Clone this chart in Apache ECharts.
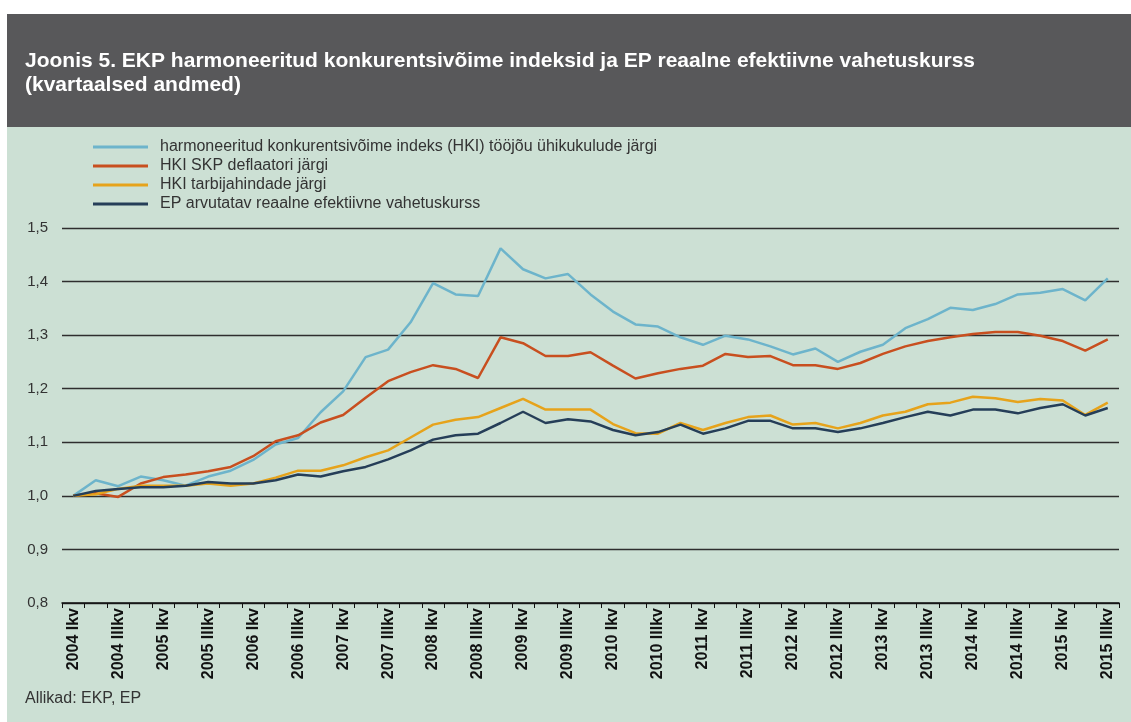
<!DOCTYPE html>
<html>
<head>
<meta charset="utf-8">
<style>
  html, body { margin: 0; padding: 0; background: #ffffff; }
  #chart { width: 1131px; height: 722px; }
</style>
<script src="https://cdn.jsdelivr.net/npm/echarts@6/dist/echarts.min.js"></script>
</head>
<body>
<div id="chart"></div>
<script>
var quarters = [
  '2004 Ikv', '2004 IIkv', '2004 IIIkv', '2004 IVkv',
  '2005 Ikv', '2005 IIkv', '2005 IIIkv', '2005 IVkv',
  '2006 Ikv', '2006 IIkv', '2006 IIIkv', '2006 IVkv',
  '2007 Ikv', '2007 IIkv', '2007 IIIkv', '2007 IVkv',
  '2008 Ikv', '2008 IIkv', '2008 IIIkv', '2008 IVkv',
  '2009 Ikv', '2009 IIkv', '2009 IIIkv', '2009 IVkv',
  '2010 Ikv', '2010 IIkv', '2010 IIIkv', '2010 IVkv',
  '2011 Ikv', '2011 IIkv', '2011 IIIkv', '2011 IVkv',
  '2012 Ikv', '2012 IIkv', '2012 IIIkv', '2012 IVkv',
  '2013 Ikv', '2013 IIkv', '2013 IIIkv', '2013 IVkv',
  '2014 Ikv', '2014 IIkv', '2014 IIIkv', '2014 IVkv',
  '2015 Ikv', '2015 IIkv', '2015 IIIkv'
];

// HKI tööjõu ühikukulude järgi
var hkiUlc = [
  1.000, 1.029, 1.018, 1.036, 1.029, 1.019, 1.036, 1.047, 1.067, 1.096,
  1.108, 1.156, 1.195, 1.259, 1.273, 1.324, 1.397, 1.376, 1.373, 1.462,
  1.423, 1.406, 1.414, 1.376, 1.344, 1.320, 1.316, 1.296, 1.282, 1.299,
  1.292, 1.279, 1.264, 1.275, 1.250, 1.269, 1.282, 1.313, 1.330, 1.351,
  1.347, 1.358, 1.376, 1.379, 1.386, 1.365, 1.406
];

// HKI SKP deflaatori järgi
var hkiGdp = [
  1.000, 1.005, 0.998, 1.023, 1.035, 1.040, 1.046, 1.054, 1.074, 1.102,
  1.113, 1.137, 1.151, 1.183, 1.214, 1.231, 1.244, 1.237, 1.220, 1.296,
  1.285, 1.261, 1.261, 1.268, 1.243, 1.219, 1.229, 1.237, 1.243, 1.265,
  1.259, 1.261, 1.244, 1.244, 1.237, 1.248, 1.265, 1.279, 1.289, 1.296,
  1.302, 1.306, 1.306, 1.299, 1.289, 1.271, 1.292
];

// HKI tarbijahindade järgi
var hkiCpi = [
  1.000, 1.003, 1.013, 1.019, 1.019, 1.019, 1.023, 1.019, 1.023, 1.034,
  1.047, 1.047, 1.057, 1.072, 1.085, 1.109, 1.133, 1.142, 1.147, 1.164,
  1.181, 1.161, 1.161, 1.161, 1.134, 1.117, 1.116, 1.136, 1.123, 1.136,
  1.147, 1.150, 1.133, 1.136, 1.126, 1.136, 1.150, 1.157, 1.171, 1.174,
  1.185, 1.182, 1.175, 1.181, 1.178, 1.151, 1.174
];

// EP arvutatav reaalne efektiivne vahetuskurss
var reer = [
  1.000, 1.009, 1.013, 1.016, 1.016, 1.019, 1.026, 1.023, 1.023, 1.029,
  1.040, 1.036, 1.046, 1.054, 1.068, 1.085, 1.105, 1.113, 1.116, 1.136,
  1.157, 1.136, 1.143, 1.139, 1.123, 1.113, 1.119, 1.133, 1.116, 1.126,
  1.140, 1.140, 1.126, 1.126, 1.119, 1.126, 1.136, 1.147, 1.157, 1.150,
  1.161, 1.161, 1.154, 1.164, 1.171, 1.150, 1.164
];

var seriesNames = [
  'harmoneeritud konkurentsivõime indeks (HKI) tööjõu ühikukulude järgi',
  'HKI SKP deflaatori järgi',
  'HKI tarbijahindade järgi',
  'EP arvutatav reaalne efektiivne vahetuskurss'
];
var seriesColors = ['#6db4cb', '#c84f1f', '#e6a31b', '#253e58'];
var seriesData = [hkiUlc, hkiGdp, hkiCpi, reer];

var chart = echarts.init(document.getElementById('chart'), null, { renderer: 'canvas' });

var font = 'Liberation Sans';

chart.setOption({
  animation: false,
  backgroundColor: '#ffffff',
  textStyle: { fontFamily: font },
  graphic: [
    {
      type: 'rect',
      z: -10,
      shape: { x: 7, y: 127, width: 1124, height: 595 },
      style: { fill: '#cce0d4' }
    },
    {
      type: 'rect',
      z: -10,
      shape: { x: 7, y: 14, width: 1124, height: 113 },
      style: { fill: '#58585a' }
    },
    {
      type: 'text',
      left: 25,
      top: 49,
      style: {
        text: 'Joonis 5. EKP harmoneeritud konkurentsivõime indeksid ja EP reaalne efektiivne vahetuskurss\n(kvartaalsed andmed)',
        fill: '#ffffff',
        font: 'bold 21px ' + font,
        lineHeight: 24
      }
    },
    {
      type: 'text',
      left: 25,
      top: 691,
      style: {
        text: 'Allikad: EKP, EP',
        fill: '#333333',
        font: '16px ' + font
      }
    }
  ],
  legend: {
    orient: 'vertical',
    left: 93,
    top: 138,
    padding: 0,
    icon: 'rect',
    itemWidth: 55,
    itemHeight: 3,
    itemGap: 1,
    data: seriesNames,
    textStyle: {
      fontFamily: font,
      fontSize: 16,
      color: '#333333',
      lineHeight: 18,
      padding: [0, 0, 0, 7]
    }
  },
  grid: {
    left: 62,
    right: 12,
    top: 228,
    bottom: 119,
    containLabel: false
  },
  xAxis: {
    type: 'category',
    data: quarters,
    boundaryGap: true,
    axisLine: { lineStyle: { color: '#111111', width: 1.5 } },
    axisTick: { show: true, interval: 0, length: 5, lineStyle: { color: '#111111' } },
    axisLabel: {
      interval: 1,
      rotate: 90,
      margin: 5,
      fontFamily: font,
      fontSize: 16,
      fontWeight: 'bold',
      color: '#111111'
    },
    splitLine: { show: false }
  },
  yAxis: {
    type: 'value',
    min: 0.8,
    max: 1.5,
    interval: 0.1,
    axisLine: { show: false },
    axisTick: { show: false },
    axisLabel: {
      margin: 14,
      fontFamily: font,
      fontSize: 15,
      color: '#333333',
      formatter: function(v) { return v.toFixed(1).replace('.', ','); }
    },
    splitLine: { lineStyle: { color: '#2e2e2e', width: 1.3 } }
  },
  series: seriesNames.map(function(name, i) {
    return {
      name: name,
      type: 'line',
      data: seriesData[i],
      symbol: 'none',
      color: seriesColors[i],
      lineStyle: { width: 2.5, color: seriesColors[i] },
      z: 2 + i
    };
  })
});
</script>
</body>
</html>
